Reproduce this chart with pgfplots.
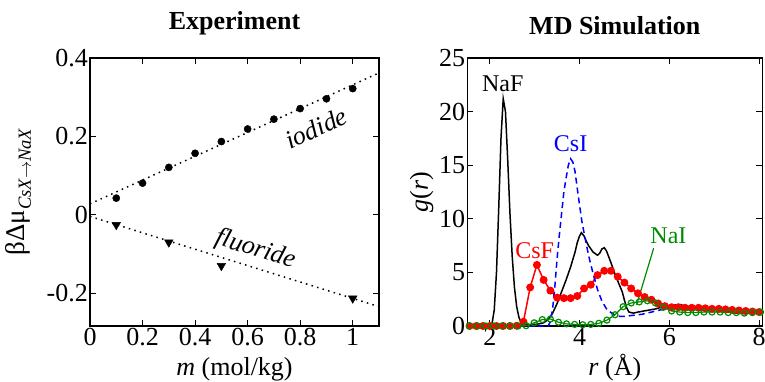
\documentclass[border=0pt]{standalone}
\usepackage{fontspec}
\setmainfont{Liberation Serif}
\usepackage{pgfplots}
\pgfplotsset{compat=1.18}
\definecolor{ngreen}{rgb}{0,0.55,0}
\newcommand{\bigfnt}{\fontsize{26}{26}\selectfont}
\newcommand{\midfnt}{\fontsize{24}{24}\selectfont}
\pgfplotsset{myax/.style={
  scale only axis, anchor=south west,
  axis line style={line width=1.2pt},
  every tick/.style={line width=1pt, black},
  major tick length=6pt, tick align=inside,
  /pgf/number format/assume math mode=true,
  ticklabel style={font=\bigfnt},
  xticklabel style={inner sep=2pt},
  yticklabel style={inner sep=2pt},
  label style={font=\bigfnt},
}}
\begin{document}
\begin{tikzpicture}
\begin{axis}[myax, at={(90pt,55pt)}, width=289pt, height=268pt,
  xmin=0, xmax=1.1, ymin=-0.2835, ymax=0.4,
  xtick={0,0.2,0.4,0.6,0.8,1}, xticklabels={0,0.2,0.4,0.6,0.8,1},
  ytick={-0.2,0,0.2,0.4}, yticklabels={-0.2,0,0.2,0.4},
  xlabel={\textit{m} (mol/kg)},
  xlabel style={at={(axis description cs:0.5,-0.183)}, anchor=base},
  ylabel={\fontsize{27}{27}\selectfont βΔμ\raisebox{-6pt}{\fontsize{18.5}{18.5}\selectfont\itshape CsX$\rightarrow$NaX}},
  ylabel style={at={(axis description cs:-0.225,0.5)}, anchor=base},
]
\addplot[black, line width=1.5pt, dash pattern=on 1.5pt off 4.3pt] coordinates {(0,0.028) (1.1,0.362)};
\addplot[black, line width=1.5pt, dash pattern=on 1.5pt off 4.3pt] coordinates {(0,-0.004) (1.1,-0.234)};
\addplot[only marks, mark=*, mark size=3.6pt, black] coordinates {
(0.1,0.0426) (0.2,0.0809) (0.3,0.121) (0.4,0.157) (0.5,0.187)
(0.6,0.219) (0.7,0.244) (0.8,0.271) (0.9,0.296) (1.0,0.322)};
\addplot[only marks, mark=triangle*, mark size=5pt, mark options={rotate=180}, black] coordinates {
(0.1,-0.0255) (0.3,-0.070) (0.5,-0.130) (1.0,-0.213)};
\node[font=\bigfnt\itshape, rotate=24.3] at (axis cs:0.861,0.2215) {iodide};
\node[font=\bigfnt\itshape, rotate=-17.3] at (axis cs:0.629,-0.0894) {fluoride};
\end{axis}
\node[font=\bigfnt\bfseries, anchor=base] at (234.5pt,351pt) {Experiment};
\begin{axis}[myax, at={(467.3pt,55pt)}, width=295pt, height=268pt,
  xmin=1.5, xmax=8.07, ymin=0, ymax=25,
  xtick={2,4,6,8}, ytick={0,5,10,15,20,25},
  xlabel={\textit{r} (Å)},
  xlabel style={at={(axis description cs:0.5,-0.183)}, anchor=base},
  ylabel={\textit{g}(\textit{r})},
  ylabel style={at={(axis description cs:-0.134,0.5)}, anchor=base},
]
% CsF
\addplot[red, line width=1.5pt, mark=*, mark size=3.2pt, mark options={solid}] coordinates {
(1.55,0) (1.70,0) (1.85,0) (2.00,0) (2.15,0) (2.30,0) (2.45,0) (2.60,0.02)
(2.75,0.4) (2.90,3.6) (3.05,5.7) (3.20,4.3) (3.35,3.3) (3.50,2.65) (3.65,2.6)
(3.80,2.6) (3.95,2.8) (4.10,3.5) (4.25,3.85) (4.40,4.75) (4.55,5.15) (4.70,5.15)
(4.85,4.6) (5.00,4.05) (5.15,3.5) (5.30,3.05) (5.45,2.7) (5.60,2.45) (5.75,2.1)
(5.90,1.85) (6.05,1.75) (6.20,1.75) (6.35,1.7) (6.50,1.7) (6.65,1.7) (6.80,1.65)
(6.95,1.6) (7.10,1.6) (7.25,1.55) (7.40,1.5) (7.55,1.45) (7.70,1.4) (7.85,1.35) (8.00,1.3)};
% NaF
\addplot[black, line width=1.5pt] coordinates {
(1.5,0) (2.0,0) (2.05,0.2) (2.1,1.5) (2.15,5) (2.2,11) (2.25,17.5) (2.3,21.2)
(2.35,20) (2.4,15.5) (2.45,10.5) (2.5,6.5) (2.55,3.6) (2.6,1.8) (2.65,0.8)
(2.7,0.3) (2.8,0.1) (2.9,0.1) (3.0,0.15) (3.1,0.2) (3.2,0.3) (3.3,0.6)
(3.4,1.2) (3.5,2.1) (3.6,3.2) (3.7,4.3) (3.8,5.5) (3.9,6.9) (3.95,7.8)
(4.0,8.4) (4.04,8.7) (4.1,8.4) (4.15,7.9) (4.2,7.5) (4.3,6.9) (4.4,6.6)
(4.45,6.8) (4.5,7.2) (4.55,7.3) (4.6,7.0) (4.7,5.9) (4.8,4.7) (4.9,3.7)
(4.95,3.2) (5.0,2.4) (5.05,1.7) (5.1,1.3) (5.2,1.2) (5.3,1.3) (5.5,1.45)
(5.7,1.6) (5.9,1.85) (6.1,1.95) (6.25,2.0) (6.35,1.85) (6.5,1.8) (6.8,1.75)
(7.0,1.65) (7.2,1.6) (7.35,1.3) (7.5,1.2) (7.7,1.15) (7.9,1.25) (8.07,1.3)};
% CsI
\addplot[blue, line width=1.5pt, dash pattern=on 6pt off 4pt] coordinates {
(1.5,0) (3.3,0) (3.35,0.4) (3.4,1.6) (3.45,3.7) (3.5,6.3) (3.55,8.5) (3.6,10.5)
(3.65,12.5) (3.7,13.8) (3.75,15.0) (3.8,15.6) (3.85,15.3) (3.9,14.4) (3.95,12.8)
(4.0,11.3) (4.05,9.8) (4.1,8.7) (4.2,6.6) (4.3,4.9) (4.4,3.4) (4.5,2.3) (4.6,1.6)
(4.7,1.25) (4.8,1.0) (4.9,0.9) (5.0,0.9) (5.2,1.0) (5.4,1.1) (5.6,1.3) (5.8,1.5)
(6.0,1.6) (6.3,1.55) (6.6,1.5) (7.0,1.45) (7.5,1.35) (8.07,1.3)};
% NaI
\addplot[ngreen, line width=1.2pt, mark=o, mark size=3pt, mark options={solid, line width=1.2pt}] coordinates {
(1.55,0) (1.73,0) (1.91,0) (2.09,0) (2.27,0) (2.45,0) (2.63,0) (2.81,0.03)
(2.99,0.3) (3.17,0.6) (3.35,0.65) (3.53,0.35) (3.71,0.2) (3.89,0.15) (4.07,0.12)
(4.25,0.15) (4.43,0.25) (4.61,0.55) (4.79,1.05) (4.97,1.8) (5.15,2.15) (5.33,2.25)
(5.51,2.35) (5.69,2.15) (5.87,1.75) (6.05,1.4) (6.23,1.3) (6.41,1.25) (6.59,1.25)
(6.77,1.3) (6.95,1.3) (7.13,1.3) (7.31,1.25) (7.49,1.25) (7.67,1.2) (7.85,1.25) (8.03,1.3)};
\addplot[ngreen, line width=1.2pt] coordinates {(5.65,7.26) (5.27,1.96)};
\node[font=\midfnt, anchor=base] at (axis cs:2.29,21.9) {NaF};
\node[font=\midfnt, anchor=base, text=blue] at (axis cs:3.80,16.26) {CsI};
\node[font=\midfnt, anchor=base, text=red] at (axis cs:3.0,6.33) {CsF};
\node[font=\midfnt, anchor=base, text=ngreen] at (axis cs:5.98,7.66) {NaI};
\end{axis}
\node[font=\bigfnt\bfseries, anchor=base] at (614.8pt,346pt) {MD Simulation};
\pgfresetboundingbox
\path[use as bounding box] (0,0) rectangle (765pt,381pt);
\end{tikzpicture}
\end{document}
